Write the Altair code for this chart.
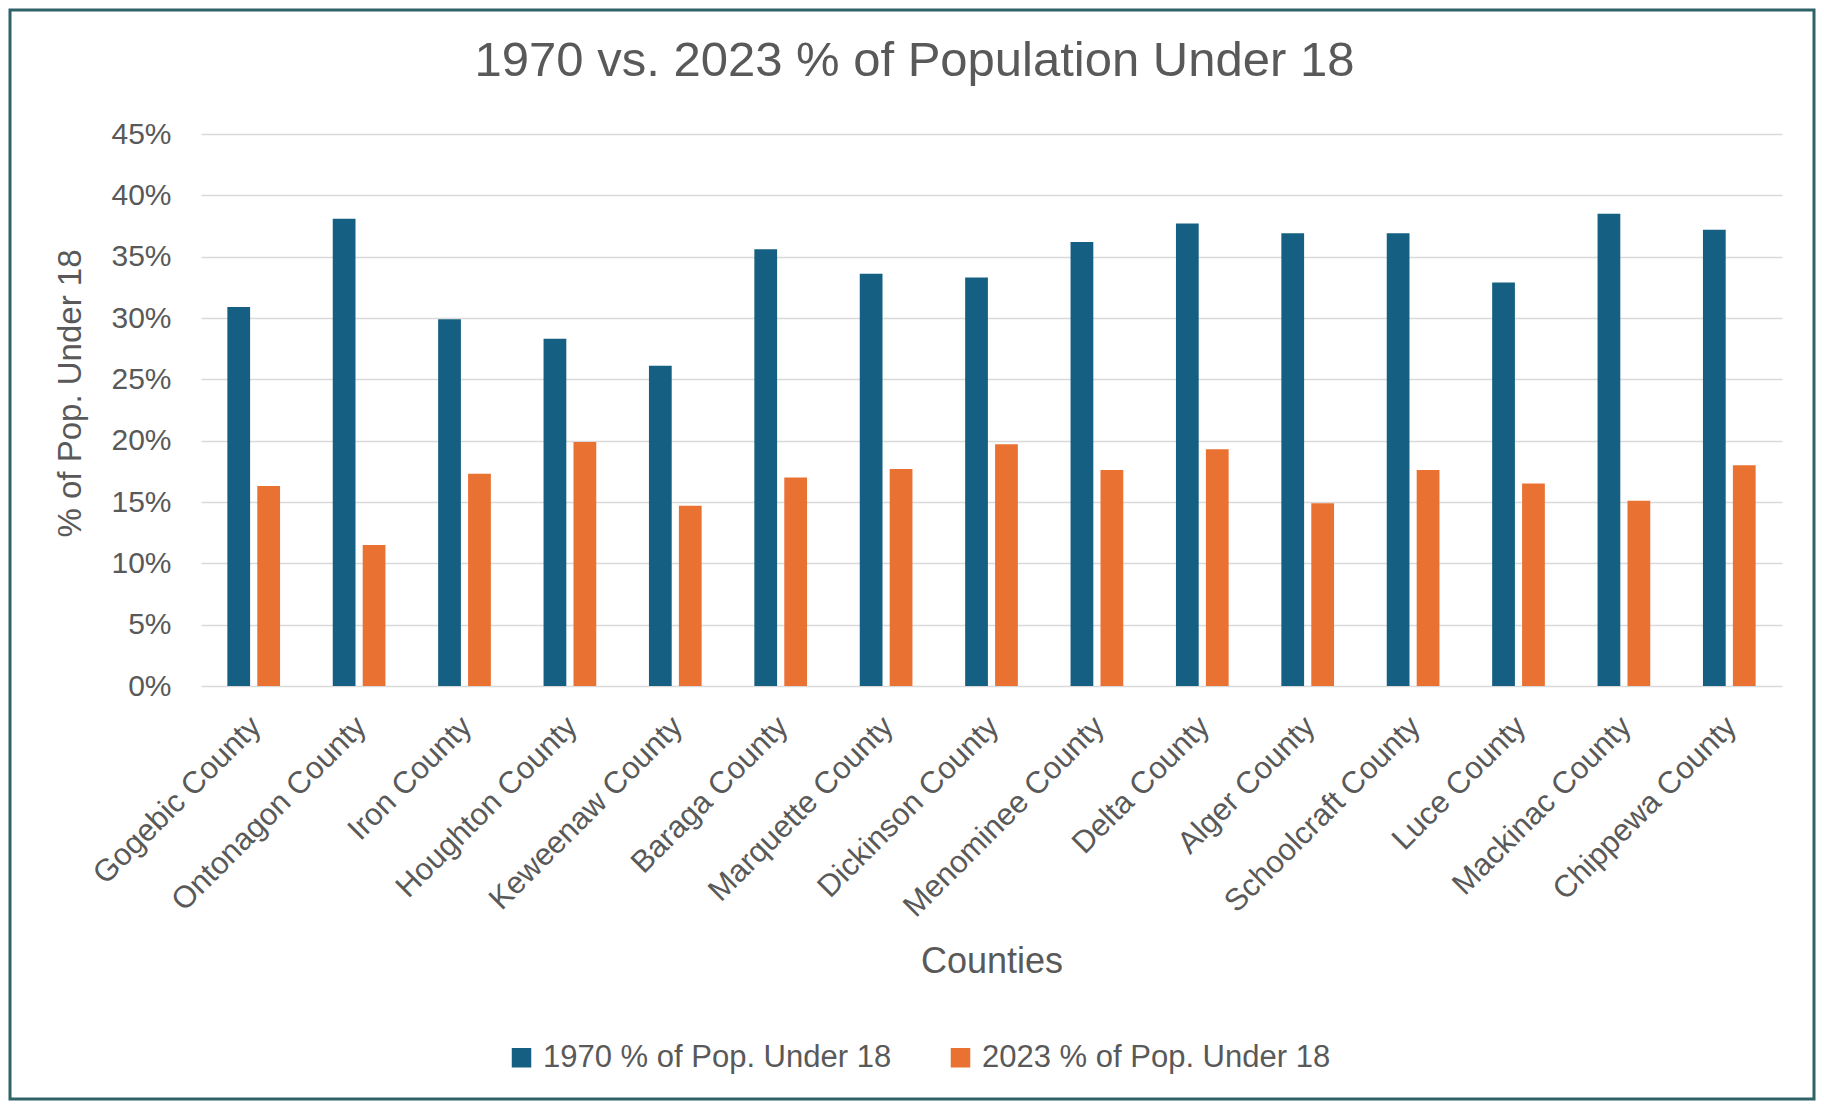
import altair as alt
import pandas as pd

counties = ["Gogebic County", "Ontonagon County", "Iron County", "Houghton County",
            "Keweenaw County", "Baraga County", "Marquette County", "Dickinson County",
            "Menominee County", "Delta County", "Alger County", "Schoolcraft County",
            "Luce County", "Mackinac County", "Chippewa County"]
pct_1970 = [0.309, 0.381, 0.299, 0.283, 0.261, 0.356, 0.336, 0.333, 0.362, 0.377,
            0.369, 0.369, 0.329, 0.385, 0.372]
pct_2023 = [0.163, 0.115, 0.173, 0.199, 0.147, 0.170, 0.177, 0.197, 0.176, 0.193,
            0.149, 0.176, 0.165, 0.151, 0.180]
series = ["1970 % of Pop. Under 18", "2023 % of Pop. Under 18"]
colors = ["#156082", "#E97132"]
y_ticks = [0, 0.05, 0.10, 0.15, 0.20, 0.25, 0.30, 0.35, 0.40, 0.45]

rows = []
for c, a, b in zip(counties, pct_1970, pct_2023):
    rows.append({"County": c, "Series": series[0], "Value": a})
    rows.append({"County": c, "Series": series[1], "Value": b})
df = pd.DataFrame(rows)

FONT = "Liberation Sans"
TXT = "#595959"
W, H = 1581, 552
PL, PT, PR, PB = 193, 126, 34, 415

bars = alt.Chart(df).mark_bar().encode(
    x=alt.X("County:N", sort=counties,
            scale=alt.Scale(paddingInner=0.5, paddingOuter=0.25),
            axis=alt.Axis(title="Counties", labelAngle=-45, labelAlign="right",
                          labelBaseline="top", labelPadding=25, labelOffset=-8,
                          labelFontSize=31,
                          labelColor=TXT, labelFont=FONT, ticks=False, domain=False,
                          titleFontSize=36, titleFont=FONT, titleColor=TXT,
                          titleFontWeight="normal", titleY=275, titleBaseline="middle",
                          grid=False, labelLimit=400)),
    xOffset=alt.XOffset("Series:N", sort=series,
                        scale=alt.Scale(paddingInner=0.24, paddingOuter=0)),
    y=alt.Y("Value:Q", scale=alt.Scale(domain=[0, 0.45], nice=False),
            axis=alt.Axis(title="% of Pop. Under 18", format=".0%", values=y_ticks,
                          labelFontSize=30, labelColor=TXT, labelFont=FONT,
                          labelPadding=30, ticks=False, domain=False,
                          gridColor="#D9D9D9", gridWidth=1.5,
                          titleFontSize=33, titleFont=FONT, titleColor=TXT,
                          titleFontWeight="normal", titleX=-131, titleY=259,
                          titleAngle=-90, titleAlign="center", titleBaseline="middle")),
    color=alt.Color("Series:N", sort=series,
                    scale=alt.Scale(domain=series, range=colors),
                    legend=alt.Legend(title=None, orient="none", direction="horizontal",
                                      legendX=305, legendY=908, symbolType="square",
                                      symbolSize=380, symbolStrokeWidth=0,
                                      labelFontSize=31, labelFont=FONT, labelColor=TXT,
                                      labelLimit=600, columnPadding=53, labelOffset=6)),
)

border = alt.Chart(pd.DataFrame({"k": [0]})).mark_rect(
    fill=None, stroke="#2F6368", strokeWidth=3, clip=False
).encode(
    x=alt.value(-PL + 2), x2=alt.value(W + PR - 2),
    y=alt.value(-PT + 2), y2=alt.value(H + PB - 2)
)

chart = alt.layer(bars, border).properties(
    width=W, height=H,
    padding={"left": PL, "top": PT, "right": PR, "bottom": PB},
    autosize=alt.AutoSizeParams(type="none"),
    title=alt.TitleParams("1970 vs. 2023 % of Population Under 18", fontSize=49,
                          font=FONT, color=TXT, fontWeight="normal", anchor="middle",
                          baseline="middle", offset=-101, dx=-77),
    background="white",
).configure_view(stroke=None)

chart.save("out.html", embed_options={"renderer": "svg", "actions": False})
